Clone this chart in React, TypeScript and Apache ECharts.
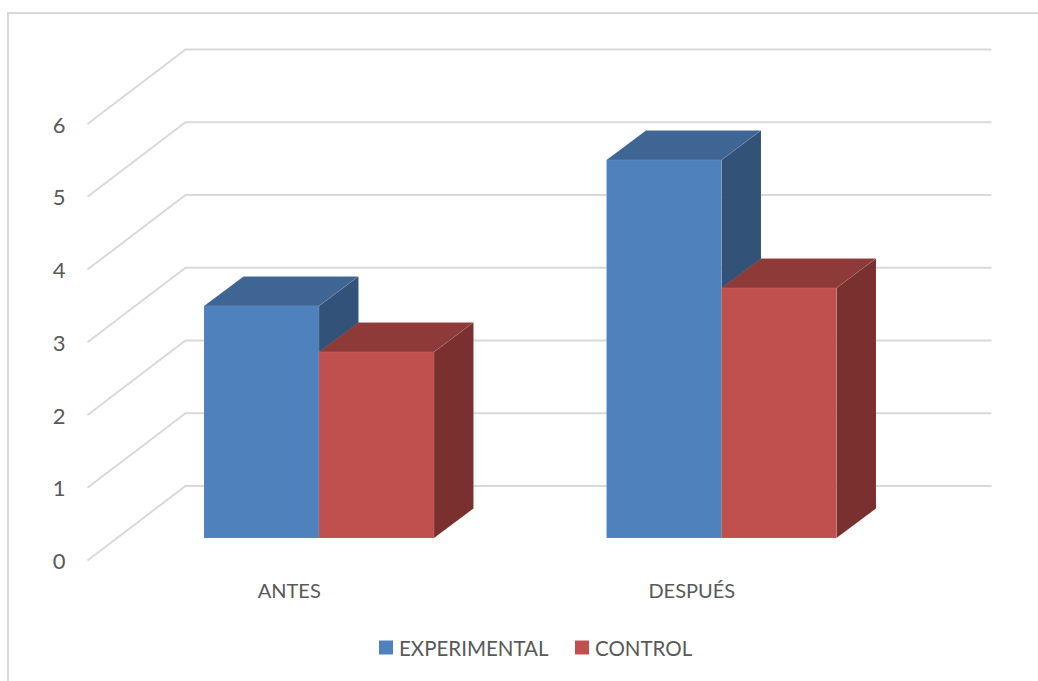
import React, { useEffect, useRef } from "react";
import * as echarts from "echarts";

const categories = ["ANTES", "DESPUÉS"];
const experimental = [3.19, 5.196];
const control = [2.557, 3.436];
const yTicks = [0, 1, 2, 3, 4, 5, 6];

const GRID_COLOR = "#D9D9D9";
const TEXT_COLOR = "#595959";
const FONT = "Lato";

// Projection of the chart's depth axis: wall offset and bar offset, in pixels.
const WALL_DX = 98;
const WALL_DY = -74.5;
const BAR_SHIFT_X = 29.75;
const BAR_SHIFT_Y = -22.5;
const BAR_WIDTH = 115;
const BAR_DX = 39.5;
const BAR_DY = -29.5;

// Gridline on the floor-to-wall side plus its run along the back wall.
function renderGridline(params: any, api: any) {
  const [, y] = api.coord([0, api.value(1)]);
  const x0 = params.coordSys.x - 0.5;
  const bx = x0 + WALL_DX;
  const ex = params.coordSys.x + params.coordSys.width + WALL_DX + 0.5;
  return {
    type: "polyline",
    shape: { points: [[x0, y], [bx, y + WALL_DY], [ex, y + WALL_DY]] },
    style: { stroke: GRID_COLOR, lineWidth: 2, fill: "none" },
    silent: true,
  };
}

// One extruded bar: front face, top face and right side.
function barRenderer(side: -1 | 1, topColor: string, sideColor: string) {
  return (_params: any, api: any) => {
    const [cx, top] = api.coord([api.value(0), api.value(1)]);
    const [, base] = api.coord([api.value(0), 0]);
    const center = cx + BAR_SHIFT_X;
    const x0 = side < 0 ? center - BAR_WIDTH : center;
    const x1 = x0 + BAR_WIDTH;
    const yTop = top + BAR_SHIFT_Y;
    const yBase = base + BAR_SHIFT_Y;
    const edge = { stroke: "rgba(255,255,255,0.08)", lineWidth: 1 };
    return {
      type: "group",
      children: [
        {
          type: "polygon",
          shape: { points: [[x0, yTop], [x1, yTop], [x1 + BAR_DX, yTop + BAR_DY], [x0 + BAR_DX, yTop + BAR_DY]] },
          style: { fill: topColor, ...edge },
        },
        {
          type: "polygon",
          shape: { points: [[x1, yTop], [x1 + BAR_DX, yTop + BAR_DY], [x1 + BAR_DX, yBase + BAR_DY], [x1, yBase]] },
          style: { fill: sideColor, ...edge },
        },
        {
          type: "rect",
          shape: { x: x0, y: yTop, width: BAR_WIDTH, height: yBase - yTop },
          style: { fill: api.visual("color"), ...edge },
        },
      ],
    };
  };
}

export default function App() {
  const ref = useRef<HTMLDivElement>(null);

  useEffect(() => {
    const chart = echarts.init(ref.current!, null, { renderer: "svg" });
    chart.setOption({
      animation: false,
      backgroundColor: "#FFFFFF",
      textStyle: { fontFamily: FONT },
      grid: { left: 88, top: 124, width: 805, height: 436.5 },
      xAxis: {
        type: "category",
        data: categories,
        axisLine: { show: false },
        axisTick: { show: false },
        axisLabel: { color: TEXT_COLOR, fontFamily: FONT, fontSize: 20, margin: 19 },
      },
      yAxis: {
        type: "value",
        min: 0,
        max: 6,
        interval: 1,
        axisLine: { show: false },
        axisTick: { show: false },
        splitLine: { show: false },
        axisLabel: { color: TEXT_COLOR, fontFamily: FONT, fontSize: 22, margin: 22.5, padding: [0, 0, 2, 0] },
      },
      legend: {
        data: ["EXPERIMENTAL", "CONTROL"],
        left: 379,
        top: 637,
        padding: 0,
        icon: "rect",
        itemWidth: 14,
        itemHeight: 14,
        itemGap: 26.5,
        textStyle: { color: TEXT_COLOR, fontFamily: FONT, fontSize: 20.5, padding: [0, 0, 0, 1] },
      },
      // Chart-area frame: only the top and left edges are visible.
      graphic: [
        {
          type: "polyline",
          shape: { points: [[8, 681], [8, 13], [1038, 13]] },
          style: { stroke: GRID_COLOR, lineWidth: 2, fill: "none" },
          silent: true,
        },
      ],
      series: [
        {
          name: "grid",
          type: "custom",
          coordinateSystem: "cartesian2d",
          renderItem: renderGridline,
          data: yTicks.map((v) => [0, v]),
          z: 1,
          silent: true,
        },
        {
          name: "EXPERIMENTAL",
          type: "custom",
          coordinateSystem: "cartesian2d",
          itemStyle: { color: "#4F81BD" },
          renderItem: barRenderer(-1, "#3E6594", "#325278"),
          data: experimental.map((v, i) => [i, v]),
          z: 2,
        },
        {
          name: "CONTROL",
          type: "custom",
          coordinateSystem: "cartesian2d",
          itemStyle: { color: "#C0504D" },
          renderItem: barRenderer(1, "#8E3A38", "#7A302E"),
          data: control.map((v, i) => [i, v]),
          z: 3,
        },
      ],
    });
    return () => chart.dispose();
  }, []);

  return <div ref={ref} style={{ position: "absolute", left: 0, top: 0, width: 1038, height: 681 }} />;
}
